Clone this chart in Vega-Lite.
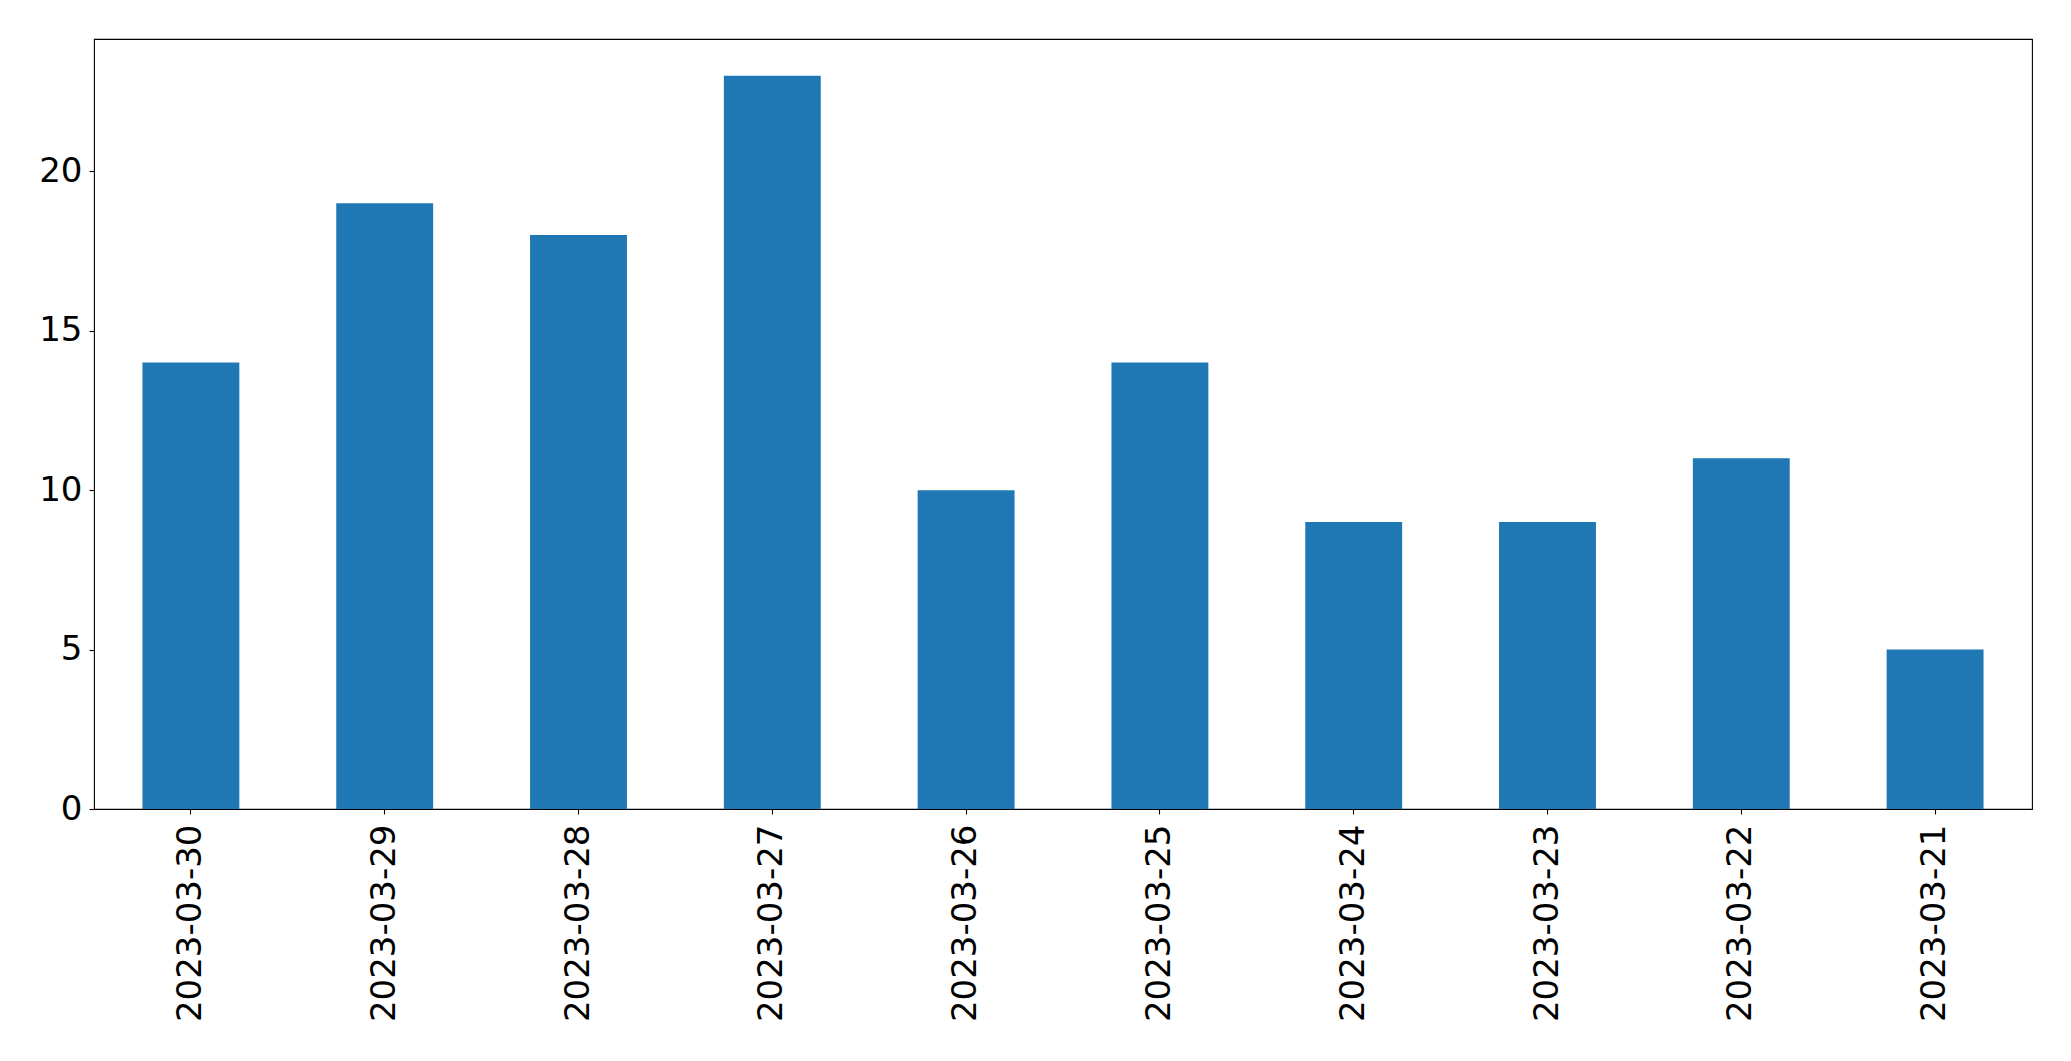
{
  "$schema": "https://vega.github.io/schema/vega-lite/v6.json",
  "autosize": {"type": "none"},
  "padding": {"left": 94, "top": 39, "right": 39, "bottom": 252},
  "width": 1938,
  "height": 770,
  "background": "white",
  "config": {
    "view": {"stroke": "black", "strokeWidth": 1.1},
    "axis": {
      "labelFont": "DejaVu Sans",
      "labelFontSize": 34,
      "labelColor": "black",
      "labelLimit": 0,
      "tickColor": "black",
      "tickSize": 5,
      "tickWidth": 1.1,
      "domain": false,
      "grid": false,
      "title": null
    }
  },
  "data": {
    "values": [
      {"date": "2023-03-30", "count": 14},
      {"date": "2023-03-29", "count": 19},
      {"date": "2023-03-28", "count": 18},
      {"date": "2023-03-27", "count": 23},
      {"date": "2023-03-26", "count": 10},
      {"date": "2023-03-25", "count": 14},
      {"date": "2023-03-24", "count": 9},
      {"date": "2023-03-23", "count": 9},
      {"date": "2023-03-22", "count": 11},
      {"date": "2023-03-21", "count": 5}
    ]
  },
  "mark": {"type": "bar", "color": "#1f77b4"},
  "encoding": {
    "x": {
      "field": "date",
      "type": "nominal",
      "sort": null,
      "scale": {"paddingInner": 0.5, "paddingOuter": 0.25},
      "axis": {"labelAngle": -90, "labelPadding": 10}
    },
    "y": {
      "field": "count",
      "type": "quantitative",
      "scale": {"domain": [0, 24.15], "nice": false, "zero": true},
      "axis": {"values": [0, 5, 10, 15, 20], "labelPadding": 7}
    }
  }
}
